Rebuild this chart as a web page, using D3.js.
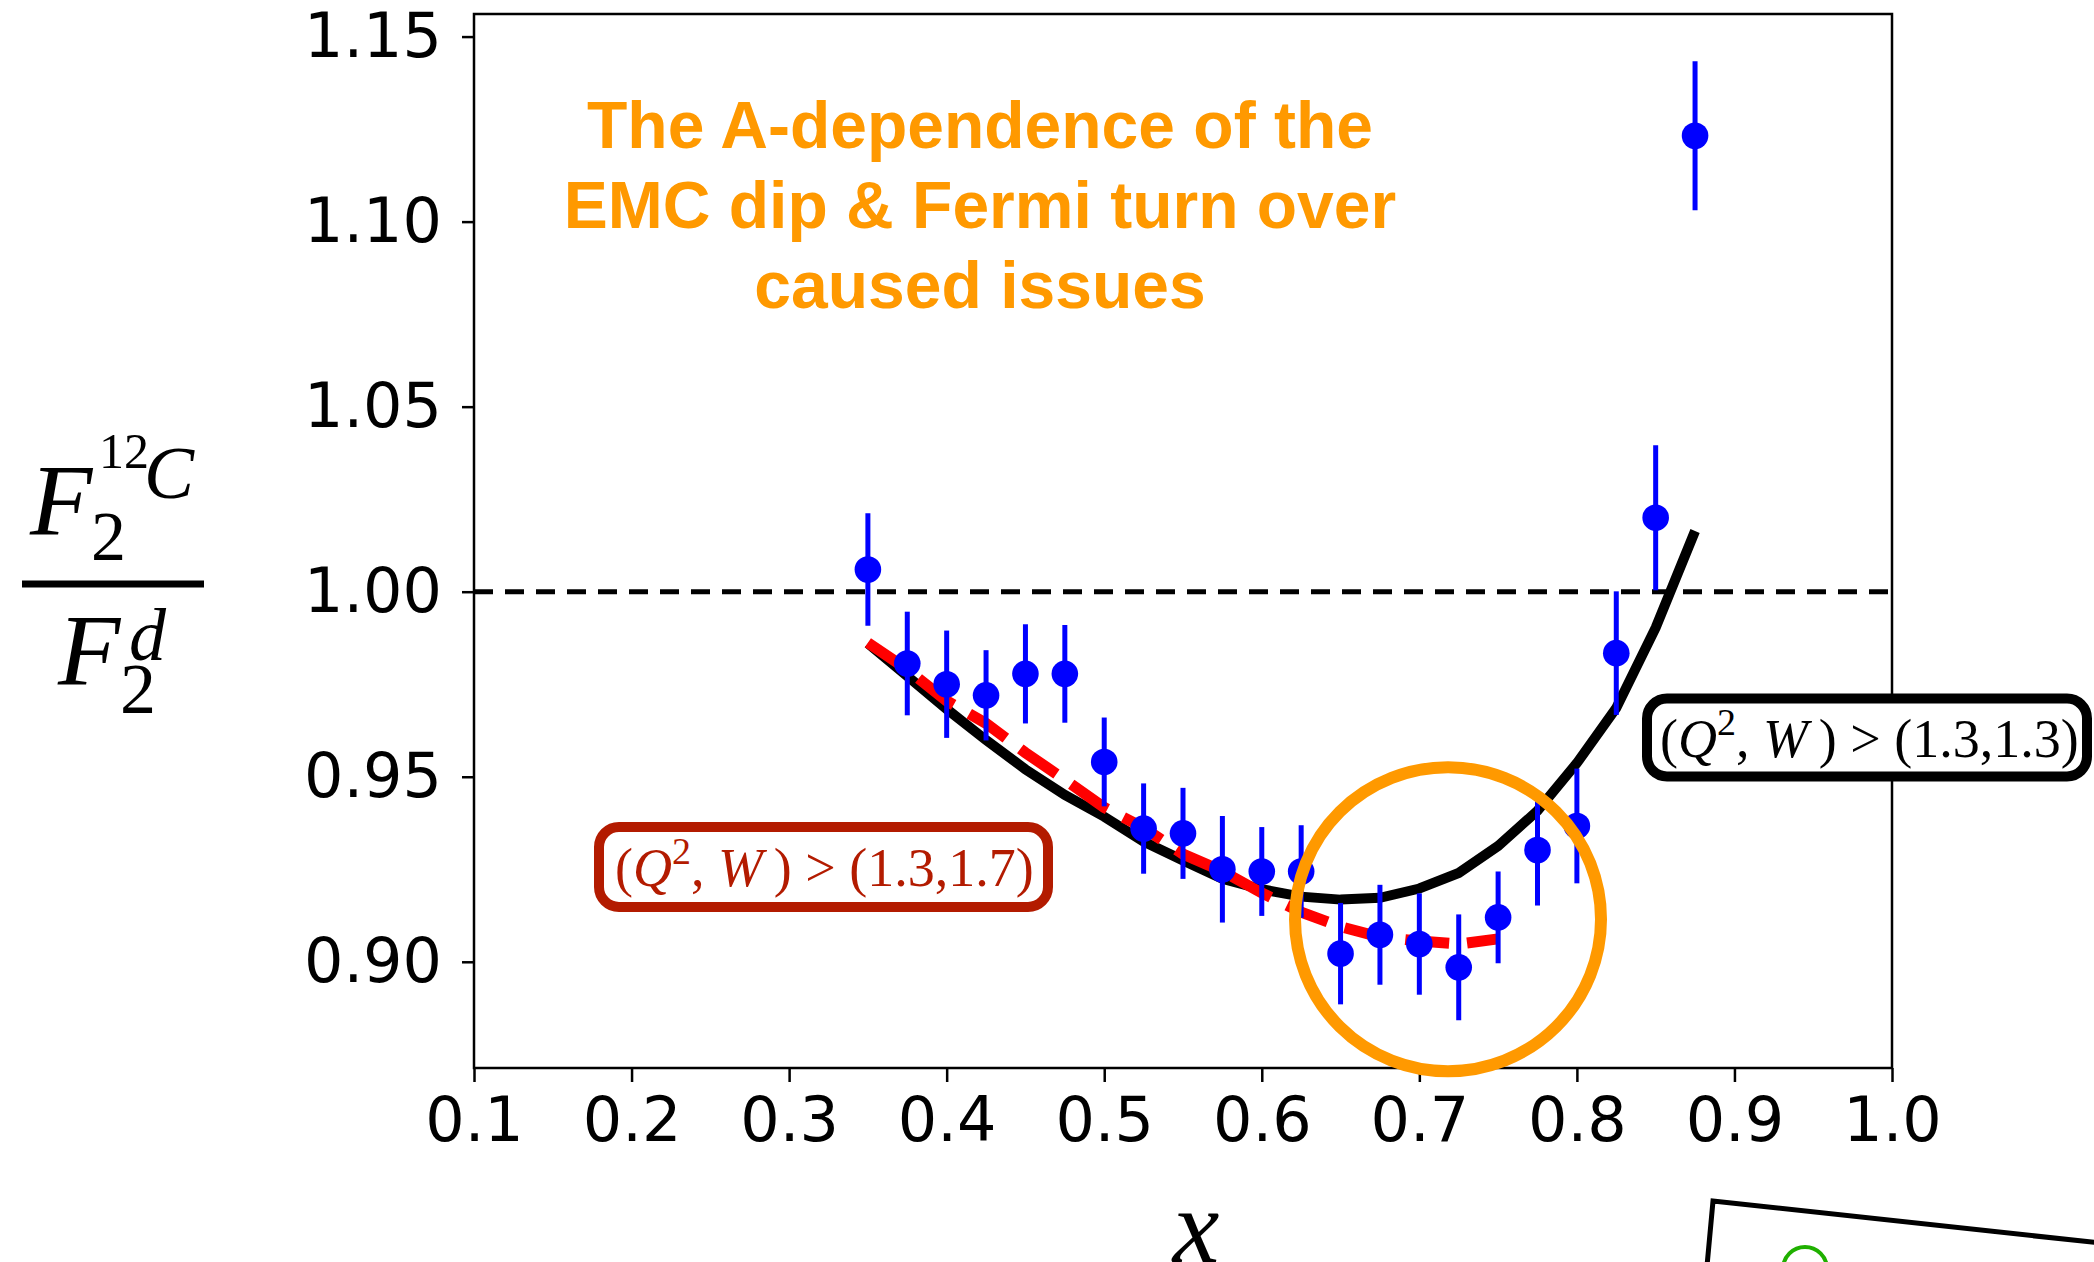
<!DOCTYPE html>
<html>
<head>
  <title>F2 ratio 12C over deuterium</title>
  <script src="https://d3js.org/d3.v7.min.js"></script>
  <style>
    body { margin: 0; background: #fff; }
    .tick text { font-family: "DejaVu Sans", sans-serif; font-size: 62px; fill: #000; }
    .tick line { stroke: #000; stroke-width: 2.5; }
  </style>
</head>
<body>
  <svg width="2094" height="1262"></svg>
<script>

// measured ratio points (x bins of 0.025)
const xData = [0.35, 0.375, 0.40, 0.425, 0.45, 0.475, 0.50, 0.525, 0.55, 0.575, 0.60,
               0.625, 0.65, 0.675, 0.70, 0.725, 0.75, 0.775, 0.80, 0.825, 0.85, 0.875];
const ratio = [1.006, 0.9806, 0.975, 0.972, 0.9778, 0.9778, 0.954, 0.936, 0.9347, 0.925, 0.9244,
               0.9244, 0.9022, 0.9073, 0.9048, 0.8985, 0.912, 0.9302, 0.9367, 0.9834, 1.020, 1.1232];
const ratioErr = [0.0152, 0.014, 0.0145, 0.0122, 0.0134, 0.0132, 0.012, 0.0122, 0.0123, 0.0144, 0.012,
                  0.0125, 0.0137, 0.0135, 0.0137, 0.0143, 0.0124, 0.015, 0.0155, 0.0167, 0.0196, 0.0201];

// fit with (Q2,W) > (1.3,1.3), same x bins
const fitLoose = [0.986, 0.9772, 0.9683, 0.9599, 0.952, 0.9451, 0.9392, 0.9325, 0.9274, 0.9224, 0.9196,
                  0.9176, 0.9168, 0.9173, 0.9198, 0.924, 0.9313, 0.9408, 0.9537, 0.9686, 0.9903, 1.0164];
// fit with (Q2,W) > (1.3,1.7), x from 0.35 to 0.75
const fitTight = [0.9862, 0.979, 0.9705, 0.9644, 0.9565, 0.9492, 0.9417, 0.9362, 0.9291, 0.9245, 0.9186,
                  0.9134, 0.9095, 0.9067, 0.9056, 0.9048, 0.9062];

const xTicks = [0.1, 0.2, 0.3, 0.4, 0.5, 0.6, 0.7, 0.8, 0.9, 1.0];
const yTicks = [0.90, 0.95, 1.00, 1.05, 1.10, 1.15];

const noteLines = ['The A-dependence of the', 'EMC dip & Fermi turn over', 'caused issues'];

const L = 474, R = 1892, T = 14, B = 1068;

let svg = d3.select('svg');
svg.append('rect').attr('width', 2094).attr('height', 1262).style('fill', '#fff');

let x = d3.scaleLinear().domain([0.1, 1.0]).range([L, R]);
let y = d3.scaleLinear().domain([0.8713, 1.1561]).range([B, T]);

// axes
let gx = svg.append('g').attr('transform', 'translate(0,' + B + ')')
  .call(d3.axisBottom(x).tickValues(xTicks).tickFormat(d3.format('.1f')).tickSize(14).tickPadding(15));
let gy = svg.append('g').attr('transform', 'translate(' + L + ',0)')
  .call(d3.axisLeft(y).tickValues(yTicks).tickFormat(d3.format('.2f')).tickSize(12).tickPadding(20));
gx.select('.domain').remove();
gy.select('.domain').remove();

svg.append('rect')
  .attr('x', L).attr('y', T).attr('width', R - L).attr('height', B - T)
  .style('fill', 'none').style('stroke', '#000').style('stroke-width', 2.5);

// unity line
svg.append('line')
  .attr('x1', x(0.1)).attr('x2', x(1.0))
  .attr('y1', y(1.0)).attr('y2', y(1.0))
  .style('stroke', '#000').style('stroke-width', 5).style('stroke-dasharray', '19,12');

let line = d3.line().x(d => x(d[0])).y(d => y(d[1]));

svg.append('path')
  .attr('d', line(xData.map((v, i) => [v, fitLoose[i]])))
  .style('fill', 'none').style('stroke', '#000').style('stroke-width', 10);

svg.append('path')
  .attr('d', line(fitTight.map((v, i) => [xData[i], v])))
  .style('fill', 'none').style('stroke', '#ff0000').style('stroke-width', 11)
  .style('stroke-dasharray', '44,18');

// data with error bars
let pts = svg.append('g');
xData.forEach((v, i) => {
  pts.append('line')
    .attr('x1', x(v)).attr('x2', x(v))
    .attr('y1', y(ratio[i] - ratioErr[i])).attr('y2', y(ratio[i] + ratioErr[i]))
    .style('stroke', '#0000ff').style('stroke-width', 5);
  pts.append('circle')
    .attr('cx', x(v)).attr('cy', y(ratio[i])).attr('r', 13.3)
    .style('fill', '#0000ff');
});

// orange note
let note = svg.append('text')
  .style('font-family', '"Liberation Sans", Arial, sans-serif')
  .style('font-weight', 'bold').style('font-size', '66px')
  .style('fill', '#ff9900').attr('text-anchor', 'middle');
noteLines.forEach((t, i) => {
  note.append('tspan').attr('x', 980).attr('y', 148 + i * 80).text(t);
});

svg.append('ellipse')
  .attr('cx', x(0.7182)).attr('cy', y(0.9115)).attr('rx', 153).attr('ry', 152)
  .style('fill', 'none').style('stroke', '#ff9900').style('stroke-width', 12);

// cut labels
let cutLabel = (bx, by, bw, bh, tx, ty, color, w) => {
  svg.append('rect')
    .attr('x', bx).attr('y', by).attr('width', bw).attr('height', bh).attr('rx', 20)
    .style('fill', '#fff').style('stroke', color).style('stroke-width', 10);
  let t = svg.append('text').attr('x', tx).attr('y', ty)
    .style('font-family', '"Liberation Serif", "Times New Roman", serif')
    .style('font-size', '54px').style('fill', color);
  t.append('tspan').text('(');
  t.append('tspan').style('font-style', 'italic').text('Q');
  t.append('tspan').attr('dy', -22).style('font-size', '38px').text('2');
  t.append('tspan').attr('dy', 22).text(', ');
  t.append('tspan').style('font-style', 'italic').text('W');
  t.append('tspan').text('\u2009) > (1.3,' + w + ')');
};
cutLabel(599, 827, 449, 80, 615, 886, '#b31b00', '1.7');
cutLabel(1647, 698.5, 440, 78, 1660, 757, '#000', '1.3');

// y label: F2(12C) / F2(d)
let serif = '"Liberation Serif", "Times New Roman", serif';
let ylab = svg.append('g').style('font-family', serif).style('fill', '#000');
let put = (tx, ty, size, txt, italic) => {
  ylab.append('text').attr('x', tx).attr('y', ty)
    .style('font-size', size + 'px').style('font-style', italic ? 'italic' : 'normal').text(txt);
};
put(30, 535, 102, 'F', true);
put(91, 560, 70, '2', false);
put(99, 468, 50, '12', false);
put(144, 498, 75, 'C', true);
ylab.append('line').attr('x1', 22).attr('x2', 204).attr('y1', 584).attr('y2', 584)
  .style('stroke', '#000').style('stroke-width', 7);
put(58, 685, 102, 'F', true);
put(120, 713, 72, '2', false);
put(129, 660, 74, 'd', true);

svg.append('text').attr('x', 1196).attr('y', 1262).attr('text-anchor', 'middle')
  .style('font-family', serif).style('font-style', 'italic').style('font-size', '105px').text('x');

// edge of the neighbouring panel
svg.append('path')
  .attr('d', 'M1707,1266 L1713,1201 L2100,1243')
  .style('fill', 'none').style('stroke', '#000').style('stroke-width', 5);
svg.append('circle').attr('cx', 1805).attr('cy', 1269).attr('r', 22)
  .style('fill', 'none').style('stroke', '#20b000').style('stroke-width', 4);

</script>
</body>
</html>
